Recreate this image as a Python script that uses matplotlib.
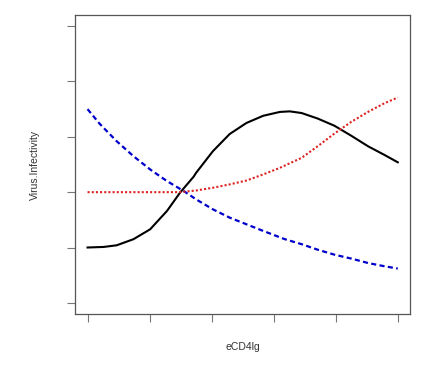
import matplotlib
matplotlib.use("Agg")
import matplotlib.pyplot as plt

plt.rcParams["font.family"] = ["Liberation Sans", "DejaVu Sans"]

# values (x ticks 0..5, y ticks 0..5, labels hidden)
black_x = [0, 0.26, 0.47, 0.74, 1.01, 1.28, 1.49, 1.71, 1.75, 2.02, 2.29,
           2.56, 2.83, 3.10, 3.26, 3.45, 3.71, 3.98, 4.25, 4.52, 4.79, 5.0]
black_y = [1.0, 1.01, 1.04, 1.15, 1.33, 1.66, 1.99, 2.28, 2.35, 2.74, 3.05,
           3.25, 3.38, 3.45, 3.46, 3.43, 3.33, 3.20, 3.02, 2.83, 2.67, 2.54]

blue_x = [0, 0.20, 0.47, 0.74, 1.01, 1.28, 1.55, 1.75, 2.02, 2.29, 2.56,
          2.83, 3.18, 3.45, 3.71, 3.98, 4.25, 4.52, 4.79, 5.0]
blue_y = [3.50, 3.23, 2.92, 2.65, 2.41, 2.20, 2.02, 1.87, 1.69, 1.54, 1.42,
          1.30, 1.15, 1.06, 0.96, 0.87, 0.80, 0.72, 0.66, 0.62]

red_x = [0, 0.5, 1.0, 1.48, 1.75, 2.02, 2.29, 2.56, 2.83, 3.10, 3.45, 3.71,
         3.98, 4.25, 4.52, 4.79, 5.0]
red_y = [2.0, 2.0, 2.0, 2.0, 2.03, 2.08, 2.14, 2.21, 2.32, 2.44, 2.62, 2.83,
         3.06, 3.27, 3.45, 3.61, 3.71]

ticks = [0, 1, 2, 3, 4, 5]

fig = plt.figure(figsize=(4.42, 3.68), dpi=100)
ax = fig.add_axes([0.170, 0.147, 0.758, 0.812])

ax.plot(black_x, black_y, color="black", lw=1.5)
ax.plot(blue_x, blue_y, color="#0000CC", lw=1.6, dashes=(2.3, 1.5))
ax.plot(red_x, red_y, color="#DD2222", lw=1.5, linestyle=(0, (1.0, 1.0)))

ax.set_xlim(-0.2, 5.2)
ax.set_ylim(-0.2, 5.2)
ax.set_xticks(ticks)
ax.set_yticks(ticks)
ax.set_xticklabels([])
ax.set_yticklabels([])
ax.tick_params(length=6, width=0.8, color="#777777", direction="out")
for s in ax.spines.values():
    s.set_color("#555555")
    s.set_linewidth(0.9)

ax.set_xlabel("eCD4lg", fontsize=7.5, color="#333333", labelpad=11)
ax.set_ylabel("Virus.Infectivity", fontsize=7.5, color="#333333", labelpad=16)

fig.savefig("out.png", dpi=100, facecolor="white")
